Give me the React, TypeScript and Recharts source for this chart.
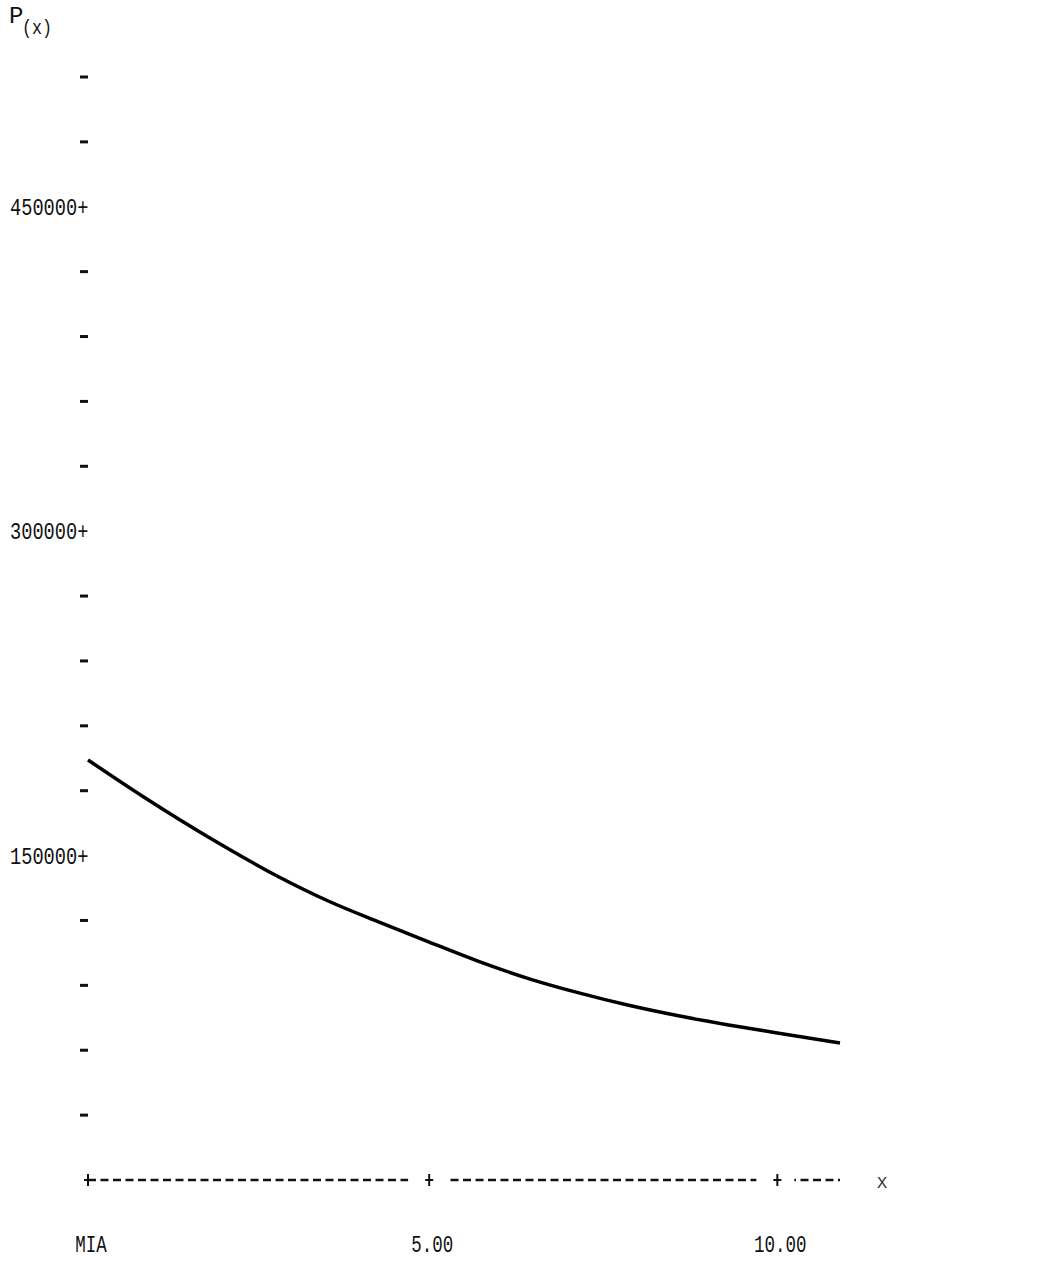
import { Line, LineChart, XAxis, YAxis } from "recharts";

// x positions and P(x)
const xValues = [0.1, 0.9, 1.9, 2.85, 3.55, 4.3, 5.0, 5.7, 6.45, 7.15, 7.85, 8.6, 9.3, 10.0, 10.9];
const pValues = [
  194200, 177100, 157200, 140000, 129000, 119000, 110000, 101200, 92900, 86500, 80900, 75800,
  71700, 68000, 63300,
];

const xTicks = [0.1, 5, 10];
const xTickLabels = ["MIA", "5.00", "10.00"];

const yTicks = [
  30000, 60000, 90000, 120000, 150000, 180000, 210000, 240000, 270000, 300000, 330000, 360000,
  390000, 420000, 450000, 480000, 510000,
];
const yLabelEvery = 150000;

const data = xValues.map((x, i) => ({ x, p: pValues[i] }));

const FONT = "'Liberation Mono', 'DejaVu Sans Mono', monospace";
const INK = "#111";

function YTick(props: any) {
  const { x, y, payload } = props;
  const v = payload.value as number;
  if (v % yLabelEvery === 0) {
    const label = `${v}+`;
    return (
      <text
        x={x - 78}
        y={y + 8}
        fontFamily={FONT}
        fontSize={24}
        fill={INK}
        textLength={label.length * 11.2}
        lengthAdjust="spacingAndGlyphs"
      >
        {label}
      </text>
    );
  }
  return <rect x={x - 8} y={y - 1.5} width={8} height={3} fill={INK} />;
}

function XTick(props: any) {
  const { x, y, payload, index } = props;
  const label = xTickLabels[xTicks.indexOf(payload.value)] ?? String(payload.value);
  return (
    <g>
      {index > 0 && <rect x={x - 21} y={y - 4} width={38} height={8} fill="#fff" />}
      <line x1={x - 4} x2={x + 4} y1={y} y2={y} stroke={INK} strokeWidth={2} />
      <line x1={x} x2={x} y1={y - 6} y2={y + 6} stroke={INK} strokeWidth={2} />
      <text
        x={x + 3}
        y={y + 72}
        textAnchor="middle"
        fontFamily={FONT}
        fontSize={24}
        fill={INK}
        textLength={label.length * 10.5}
        lengthAdjust="spacingAndGlyphs"
      >
        {label}
      </text>
    </g>
  );
}

function YTitle(props: any) {
  const vb = props.viewBox || { x: 0, y: 77 };
  return (
    <g>
      <text x={vb.x + 9} y={vb.y - 54} fontFamily={FONT} fontSize={24} fill={INK}>
        P
      </text>
      <text
        x={vb.x + 22}
        y={vb.y - 43}
        fontFamily={FONT}
        fontSize={21}
        fill={INK}
        textLength={30}
        lengthAdjust="spacingAndGlyphs"
      >
        (x)
      </text>
    </g>
  );
}

function XTitle(props: any) {
  const vb = props.viewBox || { x: 88, y: 1180, width: 752 };
  return (
    <text x={vb.x + vb.width + 37} y={vb.y + 8} fontFamily={FONT} fontSize={17} fill="#333">
      X
    </text>
  );
}

export default function App() {
  return (
    <div style={{ position: "absolute", left: 0, top: 0, background: "#fff" }}>
      <LineChart
        width={1059}
        height={1262}
        data={data}
        margin={{ top: 77, right: 219, bottom: 2, left: 0 }}
      >
        <XAxis
          dataKey="x"
          type="number"
          domain={[0.1, 10.9]}
          ticks={xTicks}
          interval={0}
          height={80}
          tickLine={false}
          tickSize={0}
          tickMargin={0}
          axisLine={{ stroke: INK, strokeWidth: 2.5, strokeDasharray: "8 4.5" }}
          tick={<XTick />}
          label={<XTitle />}
        />
        <YAxis
          type="number"
          domain={[0, 510000]}
          ticks={yTicks}
          interval={0}
          width={88}
          axisLine={false}
          tickLine={false}
          tickSize={0}
          tickMargin={0}
          tick={<YTick />}
          label={<YTitle />}
        />
        <Line
          dataKey="p"
          type="monotone"
          stroke="#000"
          strokeWidth={3.5}
          dot={false}
          isAnimationActive={false}
        />
      </LineChart>
    </div>
  );
}
